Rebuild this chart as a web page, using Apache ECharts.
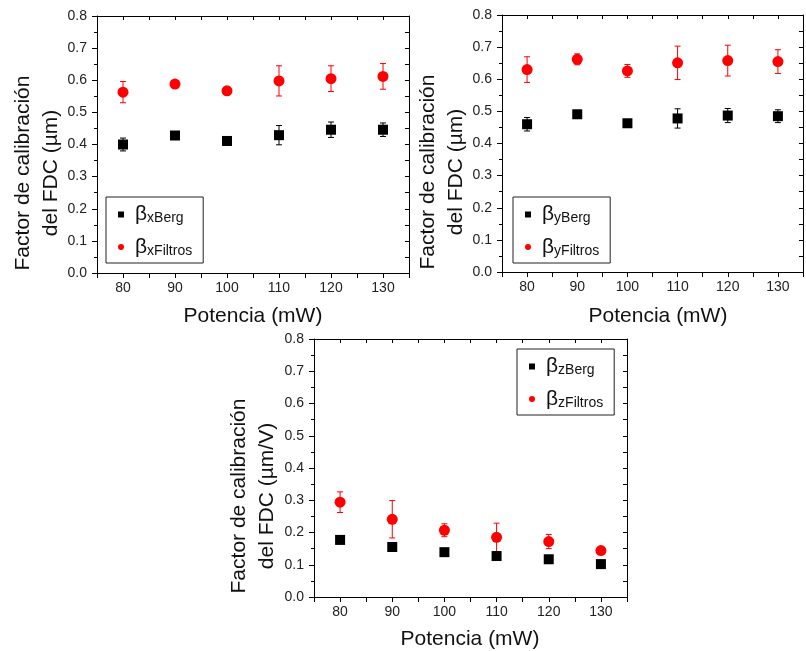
<!DOCTYPE html>
<html>
<head>
<meta charset="utf-8">
<script src="https://cdn.jsdelivr.net/npm/echarts@6/dist/echarts.min.js"></script>
<style>html,body{margin:0;padding:0;background:#fff;}#c{width:806px;height:651px;}</style>
</head>
<body>
<div id="c"></div>
<script>
// ---- data ----
const potencia = [80, 90, 100, 110, 120, 130];
const xTickLabels = [80, 90, 100, 110, 120, 130];
const yTickLabels = ['0.0','0.1','0.2','0.3','0.4','0.5','0.6','0.7','0.8'];

const xBerg       = [0.400, 0.428, 0.411, 0.429, 0.446, 0.446];
const xBergErr    = [0.020, null, null, 0.030, 0.024, 0.021];
const xFiltros    = [0.563, 0.588, 0.567, 0.598, 0.605, 0.612];
const xFiltrosErr = [0.033, null, null, 0.047, 0.040, 0.040];

const yBerg       = [0.460, 0.491, 0.463, 0.478, 0.487, 0.485];
const yBergErr    = [0.021, null, null, 0.030, 0.022, 0.020];
const yFiltros    = [0.630, 0.662, 0.626, 0.651, 0.658, 0.655];
const yFiltrosErr = [0.040, 0.017, 0.020, 0.052, 0.048, 0.037];

const zBerg       = [0.177, 0.155, 0.139, 0.127, 0.117, 0.102];
const zBergErr    = [null, null, null, null, null, null];
const zFiltros    = [0.294, 0.241, 0.207, 0.185, 0.172, 0.144];
const zFiltrosErr = [0.032, 0.058, 0.020, 0.044, 0.022, null];

const seriesNames = ['βxBerg','βxFiltros','βyBerg','βyFiltros','βzBerg','βzFiltros'];
const axisTitlesY = ['Factor de calibración\ndel FDC (µm)', 'Factor de calibración\ndel FDC (µm)', 'Factor de calibración\ndel FDC (µm/V)'];
const axisTitleX = 'Potencia (mW)';

// ---- layout ----
const FONT = '"Liberation Sans", Arial, sans-serif';
const grids = [
  {left: 97,  top: 16,  width: 312, height: 257},
  {left: 502, top: 15,  width: 313, height: 257},
  {left: 314, top: 339, width: 313, height: 258}
];
const yTitlePos = [[37, 173], [442, 172], [253, 496]];
const xTitlePos = [[253, 316], [658, 316], [470, 639]];
const legendPos = [[106, 197], [513, 197], [517, 349]];

const xAxes = [], yAxes = [];
grids.forEach((g, i) => {
  xAxes.push({
    gridIndex: i, type: 'value', min: 75, max: 135, interval: 5, position: 'bottom',
    axisLine: {show: true, onZero: false, lineStyle: {color: '#000', width: 1}},
    axisTick: {show: true, inside: false, length: 5, lineStyle: {color: '#000'}},
    axisLabel: {margin: 8, fontSize: 14, fontFamily: FONT, color: '#222',
      formatter: v => xTickLabels.indexOf(v) >= 0 ? String(v) : ''},
    splitLine: {show: false}
  });
  yAxes.push({
    gridIndex: i, type: 'value', min: 0, max: 0.8, interval: 0.1, position: 'left',
    axisLine: {show: true, onZero: false, lineStyle: {color: '#000', width: 1}},
    axisTick: {show: true, inside: false, length: 5, lineStyle: {color: '#000'}},
    minorTick: {show: true, splitNumber: 2, length: 3, lineStyle: {color: '#000'}},
    axisLabel: {margin: 10, fontSize: 14, fontFamily: FONT, color: '#222',
      formatter: v => yTickLabels[Math.round(v * 10)]},
    splitLine: {show: false}
  });
});
grids.forEach((g, i) => {
  xAxes.push({
    gridIndex: i, type: 'value', min: 75, max: 135, interval: 5, position: 'top',
    axisLine: {show: true, onZero: false, lineStyle: {color: '#000', width: 1}},
    axisTick: {show: true, inside: true, length: 4, lineStyle: {color: '#000'}},
    axisLabel: {show: false}, splitLine: {show: false}
  });
  yAxes.push({
    gridIndex: i, type: 'value', min: 0, max: 0.8, interval: 0.05, position: 'right',
    axisLine: {show: true, onZero: false, lineStyle: {color: '#000', width: 1}},
    axisTick: {show: true, inside: true, length: 4, lineStyle: {color: '#000'}},
    axisLabel: {show: false}, splitLine: {show: false}
  });
});

function pts(vals) { return potencia.map((p, k) => [p, vals[k]]); }
function errData(vals, errs) {
  const out = [];
  potencia.forEach((p, k) => { if (errs[k] != null) out.push([p, vals[k] - errs[k], vals[k] + errs[k]]); });
  return out;
}
function errSeries(i, vals, errs, color) {
  return {
    type: 'custom', xAxisIndex: i, yAxisIndex: i, z: 1, silent: true,
    data: errData(vals, errs),
    renderItem: (params, api) => {
      const lo = api.coord([api.value(0), api.value(1)]);
      const hi = api.coord([api.value(0), api.value(2)]);
      const h = 3;
      const st = {stroke: color, lineWidth: 1};
      return {type: 'group', children: [
        {type: 'line', shape: {x1: lo[0], y1: lo[1], x2: hi[0], y2: hi[1]}, style: st},
        {type: 'line', shape: {x1: lo[0] - h, y1: lo[1], x2: lo[0] + h, y2: lo[1]}, style: st},
        {type: 'line', shape: {x1: hi[0] - h, y1: hi[1], x2: hi[0] + h, y2: hi[1]}, style: st}
      ]};
    }
  };
}
const panels = [
  [xBerg, xBergErr, xFiltros, xFiltrosErr],
  [yBerg, yBergErr, yFiltros, yFiltrosErr],
  [zBerg, zBergErr, zFiltros, zFiltrosErr]
];
const series = [];
panels.forEach((p, i) => {
  series.push(errSeries(i, p[0], p[1], '#000'));
  series.push(errSeries(i, p[2], p[3], '#ff0000'));
  series.push({type: 'scatter', name: seriesNames[2*i], xAxisIndex: i, yAxisIndex: i, z: 3,
    symbol: 'rect', symbolSize: 10, itemStyle: {color: '#000', opacity: 1}, data: pts(p[0])});
  series.push({type: 'scatter', name: seriesNames[2*i+1], xAxisIndex: i, yAxisIndex: i, z: 3,
    symbol: 'circle', symbolSize: 11, itemStyle: {color: '#ff0000', opacity: 1}, data: pts(p[2])});
});

const legends = grids.map((g, i) => ({
  orient: 'vertical', left: legendPos[i][0], top: legendPos[i][1],
  data: [{name: seriesNames[2*i], icon: 'rect'}, {name: seriesNames[2*i+1], icon: 'circle'}],
  itemWidth: 6, itemHeight: 6, itemGap: 11,
  padding: [7, 11, 5, 12],
  borderColor: '#222', borderWidth: 1, backgroundColor: '#fff',
  selectedMode: false,
  itemStyle: {opacity: 1},
  formatter: name => '{b|β}{s|' + name.slice(1) + '}',
  textStyle: {fontFamily: FONT, color: '#111',
    rich: {
      b: {fontSize: 21, fontFamily: FONT, color: '#111', lineHeight: 22, padding: [0, 0, 0, 6]},
      s: {fontSize: 14, fontFamily: FONT, color: '#111', lineHeight: 11, verticalAlign: 'bottom'}
    }}
}));

const graphics = [];
grids.forEach((g, i) => {
  graphics.push({type: 'text', x: yTitlePos[i][0], y: yTitlePos[i][1], rotation: Math.PI / 2,
    style: {text: axisTitlesY[i], font: '21px ' + FONT, fill: '#111', align: 'center', verticalAlign: 'middle', lineHeight: 28}});
  graphics.push({type: 'text', x: xTitlePos[i][0], y: xTitlePos[i][1],
    style: {text: axisTitleX, font: '21px ' + FONT, fill: '#111', align: 'center', verticalAlign: 'middle'}});
});

const chart = echarts.init(document.getElementById('c'), null, {renderer: 'canvas'});
chart.setOption({
  animation: false,
  backgroundColor: '#fff',
  grid: grids.map(g => Object.assign({show: false}, g)),
  xAxis: xAxes,
  yAxis: yAxes,
  legend: legends,
  graphic: graphics,
  series: series
});
</script>
</body>
</html>
